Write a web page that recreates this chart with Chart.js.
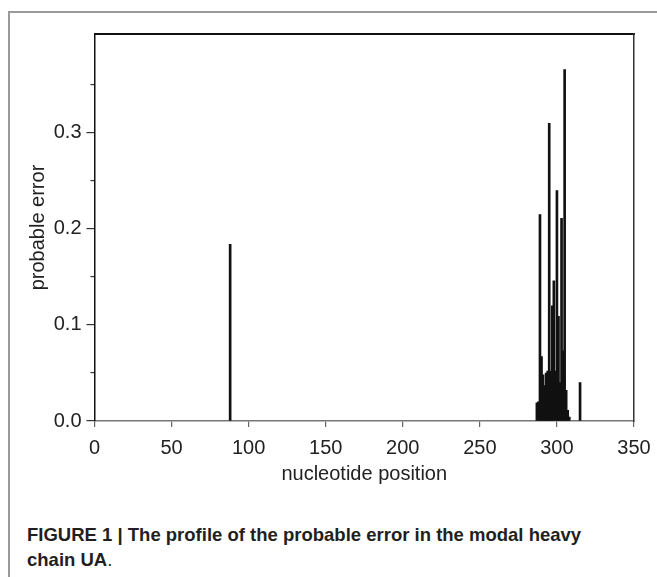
<!DOCTYPE html>
<html>
<head>
<meta charset="utf-8">
<script src="https://cdn.jsdelivr.net/npm/chart.js@4.4.1/dist/chart.umd.min.js"></script>
<style>
  html, body { margin: 0; padding: 0; background: #fff; }
  #wrap { position: relative; width: 657px; height: 577px; overflow: hidden; }
  #frame { position: absolute; left: 8px; top: 11px; width: 660px; height: 580px;
           border-top: 2px solid #9a9a9a; border-left: 2px solid #9a9a9a; }
  #chart { position: absolute; left: 0; top: 0; }
  #caption { position: absolute; left: 27px; top: 522px; width: 585px;
             font-family: "Liberation Sans", Arial, sans-serif; font-size: 18.5px;
             line-height: 25px; color: #231f20; }
  #caption b { font-weight: bold; }
</style>
</head>
<body>
<div id="wrap">
  <div id="frame"></div>
  <canvas id="chart" width="657" height="500"></canvas>
  <div id="caption"><b>FIGURE 1 | The profile of the probable error in the modal heavy chain UA</b>.</div>
</div>
<script>
// posiciones de nucleótidos y error probable
const positions = [88, 287, 288, 289, 290, 291, 292, 293, 294, 295, 296, 297, 298,
                   299, 300, 301, 302, 303, 304, 305, 306, 307, 308, 315];
const errors = [0.184, 0.019, 0.020, 0.215, 0.067, 0.048, 0.037, 0.050, 0.052, 0.310,
                0.052, 0.120, 0.146, 0.052, 0.240, 0.109, 0.040, 0.211, 0.073, 0.366,
                0.032, 0.011, 0.004, 0.040];

// marcas de los ejes
const xTicks = [0, 50, 100, 150, 200, 250, 300, 350];
const yTicks = [0, 0.1, 0.2, 0.3];
const yMinorTicks = [0.05, 0.15, 0.25, 0.35];

const X_MAX = 350;
const Y_MAX = 0.403;

const fontFamily = '"Liberation Sans", Arial, sans-serif';
Chart.defaults.font.family = fontFamily;
Chart.defaults.color = '#222';

const points = positions.map((p, i) => ({ x: p, y: errors[i] }));

// quitar el relleno extra que agrega Chart.js por las etiquetas de los extremos
function fixHeight(h) {
    return s => { s.height = h; s.paddingLeft = 0; s.paddingRight = 0; };
}
function fixWidth(w) {
    return s => { s.width = w; s.paddingTop = 0; s.paddingBottom = 0; };
}

const config = {
    type: 'bar',
    data: {
        datasets: [{
            label: 'probable error',
            data: points,
            backgroundColor: '#111',
            borderWidth: 0,
            barThickness: 2,
            xAxisID: 'x',
            yAxisID: 'y'
        }]
    },
    options: {
        responsive: false,
        animation: false,
        layout: { padding: { top: 34, right: 23, bottom: 0, left: 0 } },
        plugins: {
            legend: { display: false },
            tooltip: { enabled: false }
        },
        scales: {
            x: {
                type: 'linear',
                position: 'bottom',
                min: 0,
                max: X_MAX,
                offset: false,
                afterBuildTicks: s => { s.ticks = xTicks.map(v => ({ value: v })); },
                afterFit: fixHeight(79),
                ticks: { font: { size: 20 }, padding: 9, maxRotation: 0, autoSkip: false },
                grid: { drawOnChartArea: false, offset: false, tickLength: 6, color: '#666', lineWidth: 1.2 },
                border: { color: '#777', width: 1.5 },
                title: { display: true, text: 'nucleotide position', font: { size: 20 }, padding: { top: 0, bottom: 14 } }
            },
            xTop: {
                type: 'linear',
                position: 'top',
                min: 0,
                max: X_MAX,
                afterFit: fixHeight(0),
                ticks: { display: false },
                grid: { drawOnChartArea: false, drawTicks: false },
                border: { color: '#111', width: 2 }
            },
            y: {
                type: 'linear',
                position: 'left',
                weight: 1,
                min: 0,
                max: Y_MAX,
                afterBuildTicks: s => { s.ticks = yTicks.map(v => ({ value: v })); },
                afterFit: fixWidth(94.5),
                ticks: { font: { size: 20 }, padding: 5, callback: v => v.toFixed(1) },
                grid: { drawOnChartArea: false, tickLength: 8, color: '#333', lineWidth: 1.2 },
                border: { color: '#111', width: 1.5 },
                title: { display: true, text: 'probable error', font: { size: 20 }, padding: { top: 26, bottom: 0 } }
            },
            yMinor: {
                type: 'linear',
                position: 'left',
                weight: 0,
                min: 0,
                max: Y_MAX,
                afterBuildTicks: s => { s.ticks = yMinorTicks.map(v => ({ value: v })); },
                afterFit: fixWidth(0),
                ticks: { callback: () => '' },
                grid: { drawOnChartArea: false, tickLength: 4, color: '#333', lineWidth: 1.2 },
                border: { display: false }
            },
            yRight: {
                type: 'linear',
                position: 'right',
                min: 0,
                max: Y_MAX,
                afterFit: fixWidth(0),
                ticks: { display: false },
                grid: { drawOnChartArea: false, drawTicks: false },
                border: { color: '#333', width: 1.5 }
            }
        }
    }
};

const ctx = document.getElementById('chart').getContext('2d');
new Chart(ctx, config);
</script>
</body>
</html>
